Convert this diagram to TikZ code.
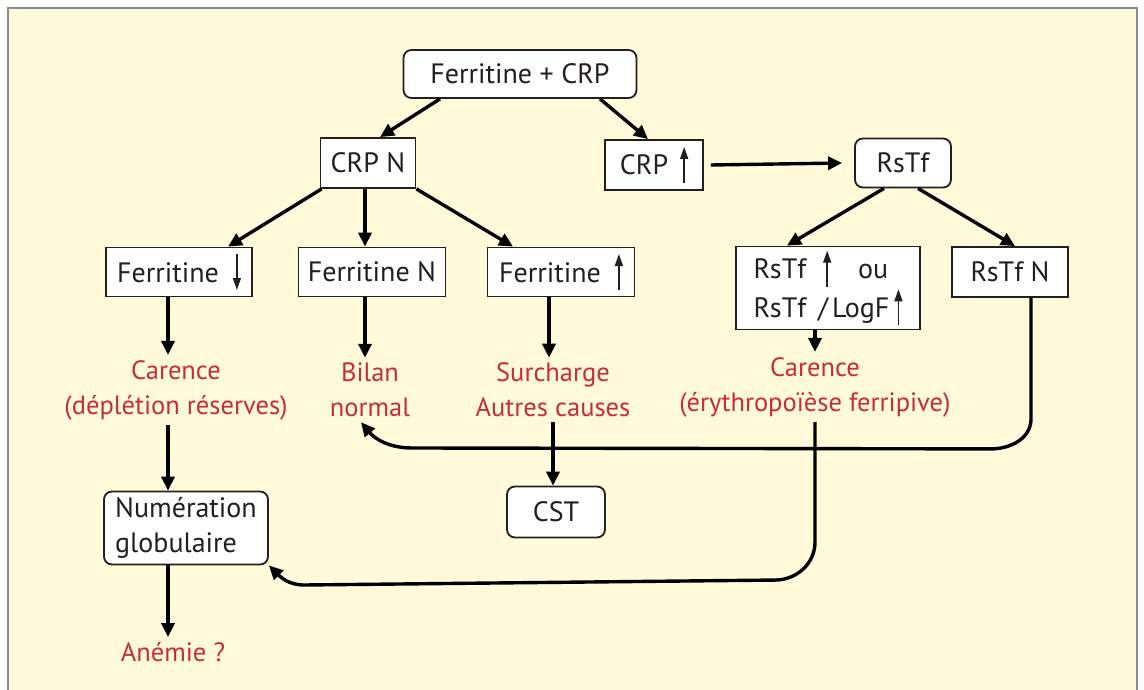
\documentclass[tikz,border=0pt]{standalone}
\usepackage{fontspec}
\setmainfont{PT Sans}
\usetikzlibrary{arrows.meta,positioning,calc}
\definecolor{cream}{RGB}{255,250,218}
\definecolor{frame}{RGB}{140,140,140}
\definecolor{ink}{RGB}{35,31,32}
\definecolor{alert}{RGB}{200,45,55}
\tikzset{
  arr/.style={-{Triangle[length=14pt,width=13pt]},line width=3.4pt},
  box/.style={draw=ink,fill=white,line width=1.8pt,inner sep=0pt,text=ink,minimum height=49pt,font=\fontsize{28}{35}\selectfont},
  rbox/.style={box,rounded corners=8pt},
  res/.style={text=alert,align=center,inner sep=5pt,font=\fontsize{26.5}{35}\selectfont}
}
\newcommand{\hausse}{\tikz[baseline=0pt]\draw[line width=1.6pt,-{Triangle[length=12pt,width=8pt]}] (0pt,-8pt)--(0pt,28pt);}
\newcommand{\baisse}{\tikz[baseline=0pt]\draw[line width=1.6pt,-{Triangle[length=12pt,width=8pt]}] (0pt,28pt)--(0pt,-8pt);}

\begin{document}
\begin{tikzpicture}[x=1pt,y=-1pt]
  \useasboundingbox (0,0) rectangle (1144,690);
  \fill[cream] (8,8) rectangle (1137,690);
  \draw[frame,line width=1.5pt] (8,690) -- (8,8) -- (1137,8) -- (1137,690);

  % boxes
  \node[rbox,minimum width=233pt,minimum height=48pt] (top) at (520,74) {Ferritine + CRP};
  \node[box,minimum width=95pt,minimum height=50pt] (crpn) at (368,163) {CRP N};
  \node[box,minimum width=98pt,minimum height=50pt] (crpup) at (654,165) {CRP\hspace{12pt}\hausse};
  \node[rbox,minimum width=96pt] (rstf) at (903,163) {RsTf};
  \node[box,minimum width=146pt] (ferlow) at (179,272) {Ferritine\hspace{14pt}\baisse};
  \node[box,minimum width=147pt] (fern) at (372,272) {Ferritine N};
  \node[box,minimum width=147pt] (ferhigh) at (561,272) {Ferritine\hspace{14pt}\hausse};
  \node[box,minimum width=184pt,minimum height=83pt,align=left] (rstfup) at (828,288)
    {RsTf\hspace{17pt}\hausse\hspace{27pt}ou\\RsTf\hspace{12pt}/\hspace{4pt}LogF\hspace{5pt}\hausse};
  \node[box,minimum width=116pt,minimum height=50pt] (rstfn) at (1010,272) {RsTf N};
  \node[rbox,minimum width=164pt,minimum height=73pt,align=left] (num) at (186,528) {Numération\\globulaire};
  \node[rbox,minimum width=98pt,minimum height=51pt] (cst) at (556,512) {CST};

  % results
  \node[res] (car1) at (176,390) {Carence\\(déplétion réserves)};
  \node[res] (bilan) at (370,390) {Bilan\\normal};
  \node[res] (surch) at (553,390) {Surcharge\\Autres causes};
  \node[res] (car2) at (815,387) {Carence\\(érythropoïèse ferripive)};
  \node[res] (anemie) at (173,652) {Anémie ?};

  % arrows
  \draw[arr] ([xshift=-80pt]top.south) -- ([xshift=12pt]crpn.north);
  \draw[arr] ([xshift=80pt]top.south) -- ([xshift=-6pt]crpup.north);
  \draw[arr] ([xshift=2pt]crpn.south west) -- ([xshift=49pt]ferlow.north);
  \draw[arr] ([xshift=-3pt]crpn.south) -- ([xshift=-3pt]crpn.south |- fern.north);
  \draw[arr] (crpn.south east) -- ([xshift=-48pt]ferhigh.north);
  \draw[arr] ([xshift=7pt]crpup.east) -- ([xshift=-12pt]rstf.west);
  \draw[arr] ([xshift=-19pt]rstf.south) -- ([xshift=-41pt]rstfup.north);
  \draw[arr] ([xshift=15pt]rstf.south) -- ([xshift=5pt]rstfn.north);
  \draw[arr] ([xshift=-11pt]ferlow.south) -- ([xshift=-11pt]ferlow.south |- car1.north);
  \draw[arr] ([xshift=-7pt]fern.south) -- ([xshift=-7pt]fern.south |- bilan.north);
  \draw[arr] ([xshift=-12pt]ferhigh.south) -- ([xshift=-12pt]ferhigh.south |- surch.north);
  \draw[arr] ([xshift=-13pt]rstfup.south) -- ([xshift=-13pt]rstfup.south |- car2.north);
  \draw[arr] ([xshift=-8pt]car1.south) -- ([xshift=-8pt]car1.south |- num.north);
  \draw[arr] ([xshift=-18pt]num.south) -- ([xshift=-18pt]num.south |- anemie.north);
  \draw[arr] (surch.south) -- (surch.south |- cst.north);
  \draw[arr] ([xshift=21pt]rstfn.south) -- ++(0,121) to[out=-90,in=0] ++(-40,30)
    -- (412,448) to[out=180,in=-50] ([xshift=-9pt]bilan.south);
  \draw[arr] (car2.south) -- ++(0,120) to[out=-90,in=0] ++(-40,38)
    -- (304,585) to[out=180,in=-45] (num.south east);
\end{tikzpicture}
\end{document}
